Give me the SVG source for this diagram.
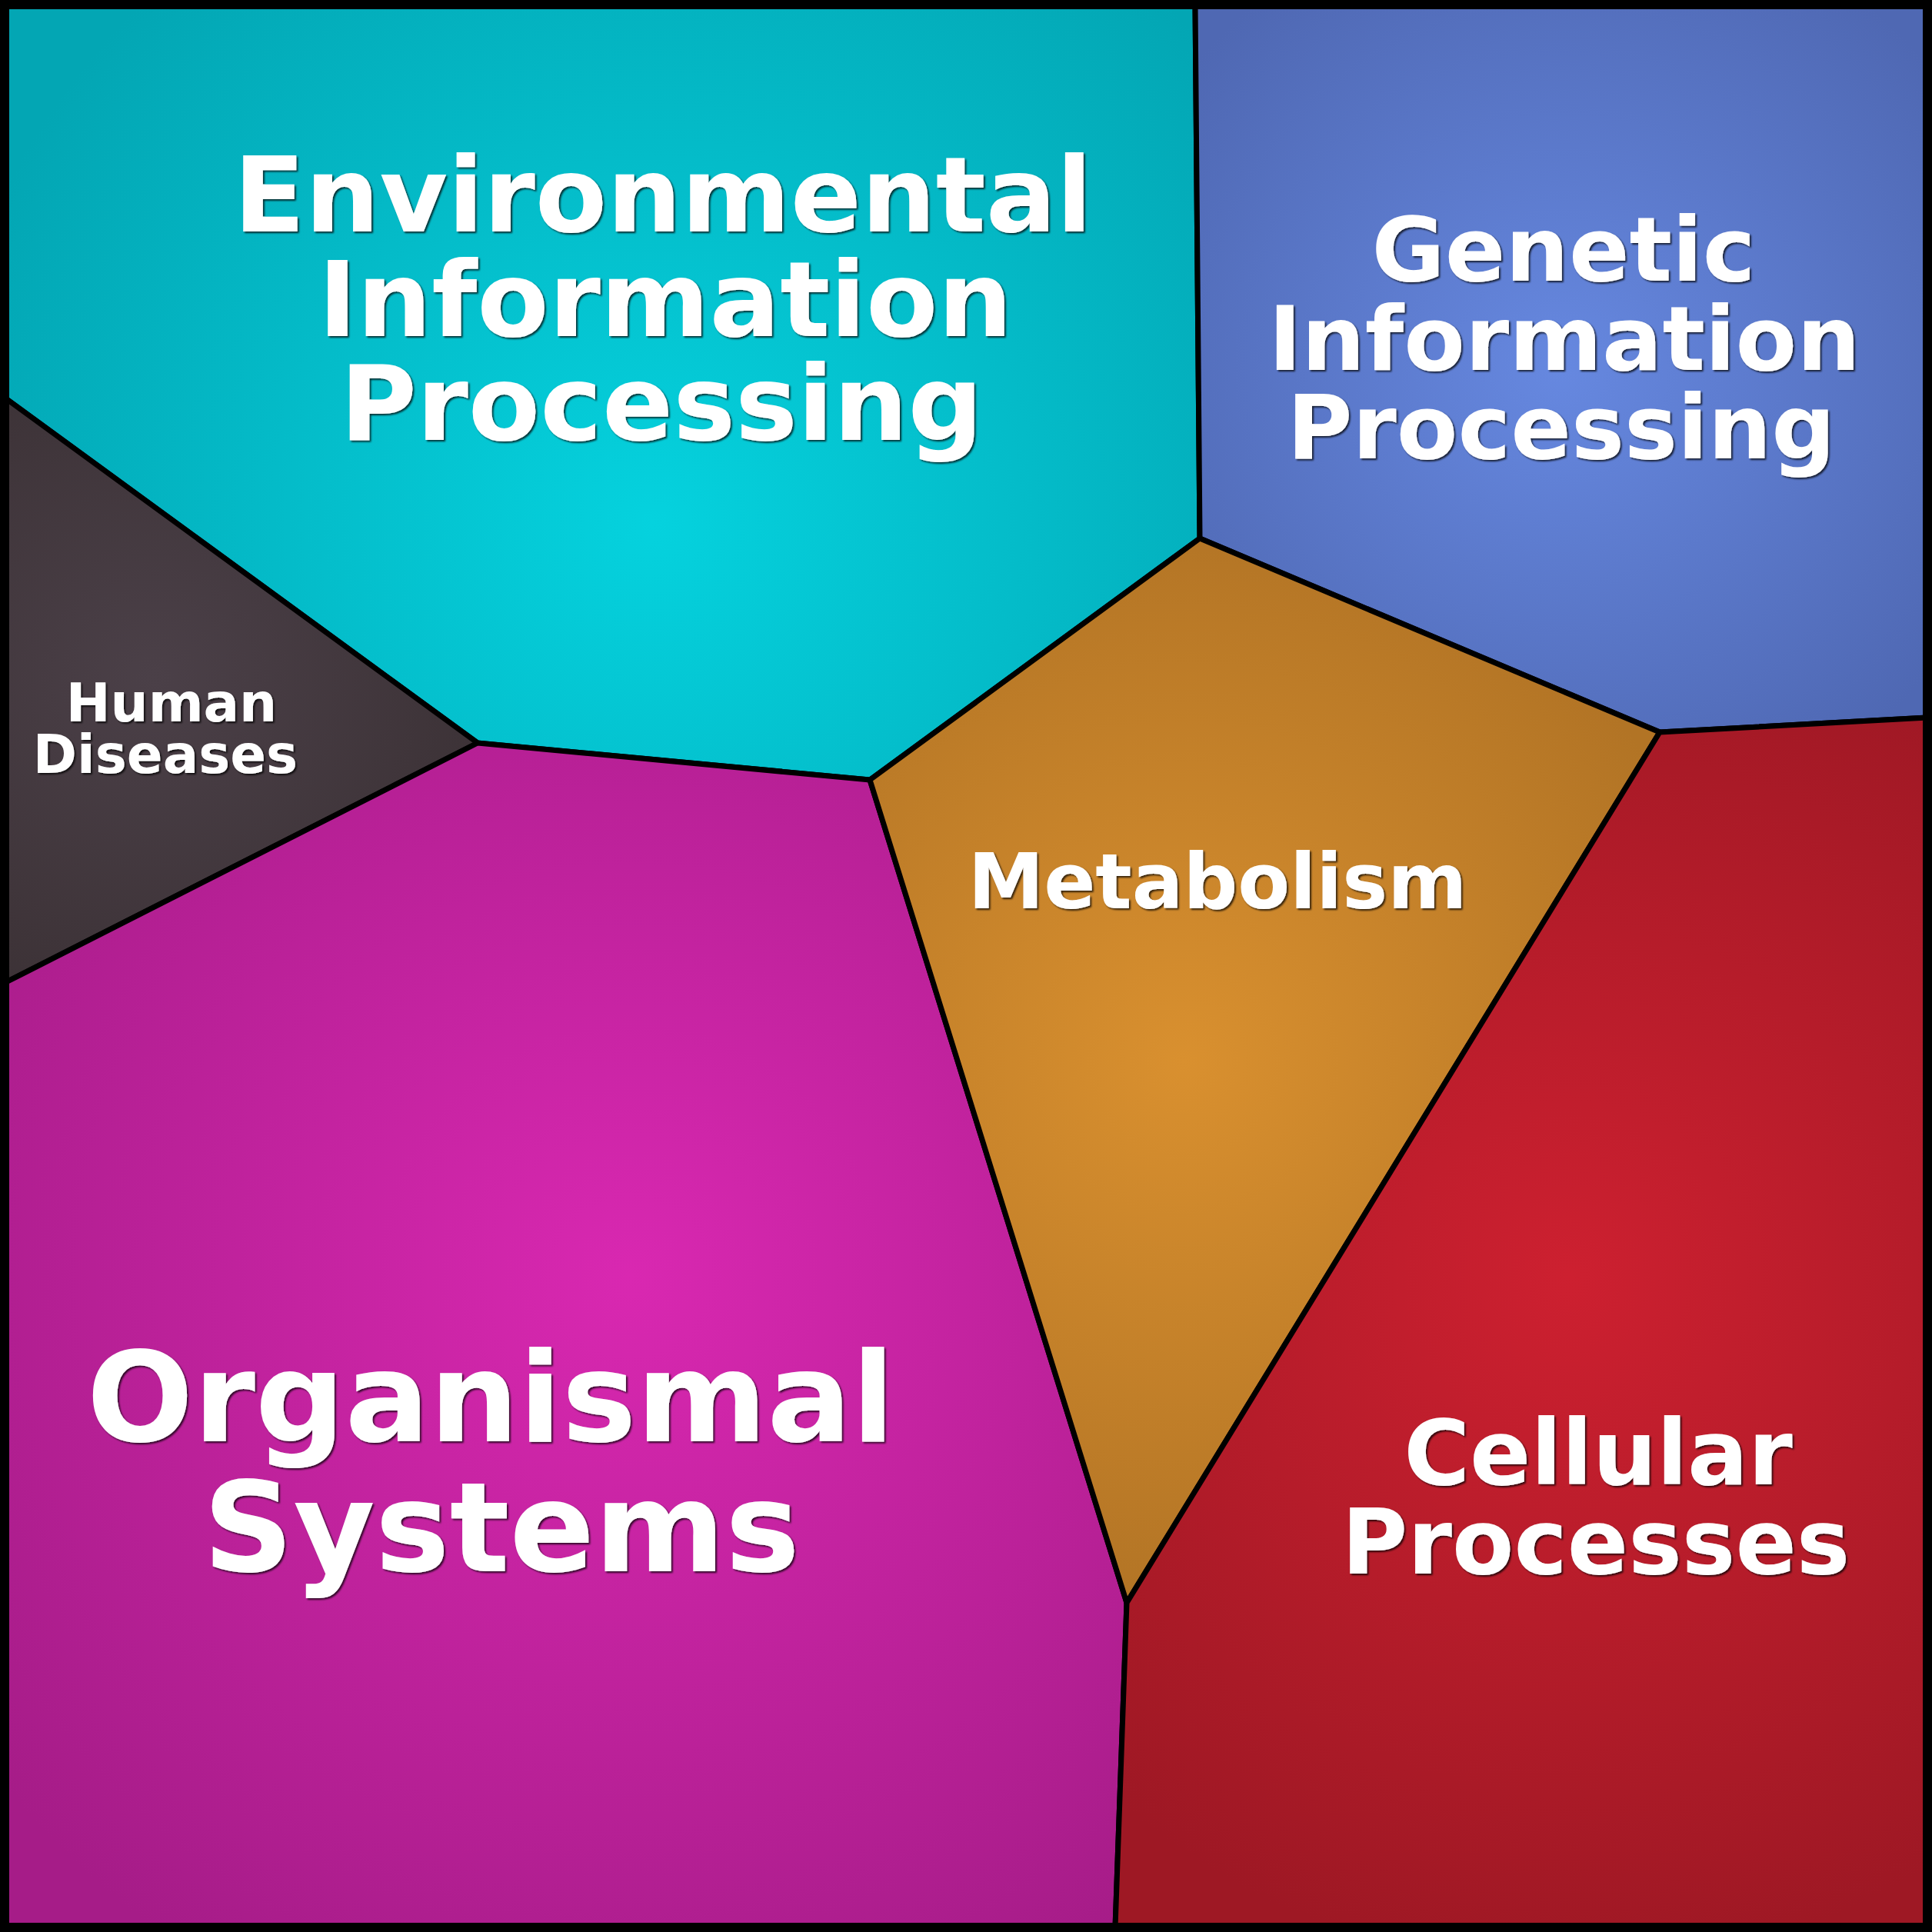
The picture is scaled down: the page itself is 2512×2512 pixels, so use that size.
<svg xmlns="http://www.w3.org/2000/svg" width="2512" height="2512" viewBox="0 0 2512 2512">
  <style>
    .region { stroke: #000; stroke-width: 7; stroke-linejoin: miter; }
    .label { font-family: "DejaVu Sans", "Liberation Sans", sans-serif; font-weight: bold; fill: #fff; text-anchor: middle; filter: url(#shadow); }
  </style>
  <defs>
    <filter id="shadow" x="-5%" y="-5%" width="110%" height="120%">
      <feDropShadow dx="2" dy="2" stdDeviation="1" flood-color="#000" flood-opacity="0.75"/>
    </filter>
    <radialGradient id="gEnv" gradientUnits="userSpaceOnUse" cx="850" cy="680" r="950">
      <stop offset="0" stop-color="#05d2de"/>
      <stop offset="1" stop-color="#03a6b4"/>
    </radialGradient>
    <radialGradient id="gGen" gradientUnits="userSpaceOnUse" cx="2030" cy="480" r="620">
      <stop offset="0" stop-color="#6688e0"/>
      <stop offset="1" stop-color="#4f68b3"/>
    </radialGradient>
    <radialGradient id="gHum" gradientUnits="userSpaceOnUse" cx="200" cy="880" r="480">
      <stop offset="0" stop-color="#4b4048"/>
      <stop offset="1" stop-color="#3b3135"/>
    </radialGradient>
    <radialGradient id="gMet" gradientUnits="userSpaceOnUse" cx="1540" cy="1380" r="720">
      <stop offset="0" stop-color="#d9902f"/>
      <stop offset="1" stop-color="#b27425"/>
    </radialGradient>
    <radialGradient id="gOrg" gradientUnits="userSpaceOnUse" cx="820" cy="1660" r="1050">
      <stop offset="0" stop-color="#d928b1"/>
      <stop offset="1" stop-color="#a61c88"/>
    </radialGradient>
    <radialGradient id="gCel" gradientUnits="userSpaceOnUse" cx="2040" cy="1660" r="900">
      <stop offset="0" stop-color="#cd2030"/>
      <stop offset="1" stop-color="#9e1824"/>
    </radialGradient>
  </defs>

  <g id="environmental">
    <polygon class="region" fill="url(#gEnv)" points="6,6 1554,6 1560,700 1131,1014 621,966 6,517"/>
    <text class="label" font-size="136"><tspan x="862" y="301">Environmental</tspan><tspan x="865" y="437">Information</tspan><tspan x="860" y="572">Processing</tspan></text>
  </g>
  <g id="genetic">
    <polygon class="region" fill="url(#gGen)" points="1554,6 2506,6 2506,933 2158,952 1560,700"/>
    <text class="label" font-size="116"><tspan x="2033" y="365">Genetic</tspan><tspan x="2034" y="481">Information</tspan><tspan x="2030" y="596">Processing</tspan></text>
  </g>
  <g id="human">
    <polygon class="region" fill="url(#gHum)" points="6,517 621,966 6,1278"/>
    <text class="label" font-size="69"><tspan x="223" y="938">Human</tspan><tspan x="215" y="1005">Diseases</tspan></text>
  </g>
  <g id="organismal">
    <polygon class="region" fill="url(#gOrg)" points="6,1278 621,966 1131,1014 1465,2084 1450,2506 6,2506"/>
    <text class="label" font-size="163"><tspan x="638" y="1874">Organismal</tspan><tspan x="652" y="2043">Systems</tspan></text>
  </g>
  <g id="metabolism">
    <polygon class="region" fill="url(#gMet)" points="1560,700 2158,952 1465,2084 1131,1014"/>
    <text class="label" font-size="99" x="1583" y="1181">Metabolism</text>
  </g>
  <g id="cellular">
    <polygon class="region" fill="url(#gCel)" points="2158,952 2506,933 2506,2506 1450,2506 1465,2084"/>
    <text class="label" font-size="117"><tspan x="2078" y="1930">Cellular</tspan><tspan x="2075" y="2046">Processes</tspan></text>
  </g>
  <g id="connectors">
    <rect x="6" y="6" width="2500" height="2500" fill="none" stroke="#000" stroke-width="12"/>
  </g>
</svg>
